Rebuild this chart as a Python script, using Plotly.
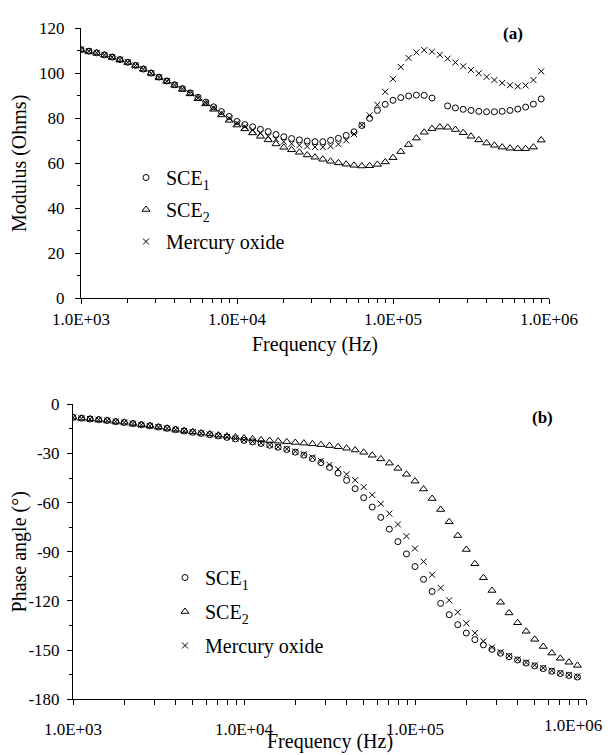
import plotly.graph_objects as go

# Frequencies (Hz) (20 points per decade)
freq = [1000, 1122, 1259, 1413, 1585, 1778, 1995, 2239, 2512, 2818,
        3162, 3548, 3981, 4467, 5012, 5623, 6310, 7079, 7943, 8913,
        10000, 11220, 12589, 14125, 15849, 17783, 19953, 22387, 25119, 28184,
        31623, 35481, 39811, 44668, 50119, 56234, 63096, 70795, 79433, 89125,
        100000, 112202, 125893, 141254, 158489, 177828, 199526, 223872, 251189, 281838,
        316228, 354813, 398107, 446684, 501187, 562341, 630957, 707946, 794328, 891251]

# (a) Modulus (Ohms)
modulus_sce1 = [110.5, 109.8, 109.1, 108.2, 107.2, 106.1, 104.9, 103.5, 101.9, 100.1,
                98.3, 96.6, 94.9, 93.2, 91.3, 89.3, 87.2, 85.1, 83.0, 80.8,
                78.6, 77.2, 76.2, 75.1, 74.1, 72.8, 71.8, 71.0, 70.4, 69.9,
                69.6, 69.6, 70.2, 71.1, 72.4, 74.0, 76.8, 80.0, 83.5, 86.2,
                88.0, 89.2, 89.9, 90.3, 90.2, 89.0, None, 85.5, 84.6, 84.0,
                83.5, 83.1, 82.9, 82.9, 83.1, 83.5, 84.1, 85.0, 86.3, 88.6]
modulus_sce2 = [110.4, 109.7, 109.0, 108.1, 107.1, 106.0, 104.8, 103.4, 101.8, 100.0,
                98.1, 96.4, 94.7, 92.9, 90.9, 88.7, 86.4, 84.0, 81.5, 79.1,
                77.0, 75.3, 73.5, 72.0, 70.4, 68.6, 67.1, 66.0, 64.9, 63.7,
                62.7, 61.8, 60.9, 60.2, 59.6, 59.1, 58.8, 58.9, 59.5, 60.6,
                62.5, 65.2, 68.3, 71.2, 73.8, 75.4, 76.1, 76.0, 75.0, 73.6,
                72.0, 70.4, 69.0, 68.0, 67.2, 66.7, 66.5, 66.5, 67.2, 70.3]
modulus_hg = [110.6, 109.9, 109.1, 108.2, 107.2, 106.1, 104.9, 103.5, 101.9, 100.0,
              98.2, 96.5, 94.8, 93.0, 91.1, 89.1, 86.9, 84.6, 82.3, 80.0,
              77.8, 76.3, 74.8, 73.4, 72.0, 70.7, 69.6, 68.7, 68.0, 67.5,
              67.2, 67.2, 67.6, 68.5, 70.2, 73.0, 77.0, 81.3, 86.0, 91.8,
              97.5, 102.8, 106.8, 109.3, 110.3, 109.6, 108.2, 106.5, 104.8, 103.1,
              101.5, 100.0, 98.4, 97.0, 95.7, 94.7, 94.2, 94.6, 97.0, 100.9]

# (b) Phase angle (degrees)
phase_sce1 = [-8.0, -8.5, -9.0, -9.4, -9.9, -10.6, -11.1, -11.8, -12.5, -13.1,
              -13.9, -14.7, -15.5, -16.3, -17.1, -17.8, -18.5, -19.3, -20.2, -21.1,
              -22.0, -22.9, -23.9, -25.0, -26.2, -27.6, -29.2, -31.0, -33.1, -35.6,
              -38.5, -42.0, -46.4, -51.5, -57.0, -62.7, -69.0, -76.2, -83.8, -91.3,
              -99.0, -106.8, -114.2, -121.5, -128.4, -134.5, -139.6, -143.6, -146.8, -149.5,
              -151.9, -154.0, -156.0, -157.9, -159.6, -161.3, -162.9, -164.3, -165.5, -166.4]
phase_sce2 = [-7.9, -8.5, -8.9, -9.3, -9.8, -10.5, -11.0, -11.7, -12.4, -13.0,
              -13.8, -14.6, -15.3, -16.0, -16.8, -17.5, -18.1, -18.8, -19.4, -20.0,
              -20.6, -21.2, -21.7, -22.1, -22.5, -22.9, -23.3, -23.7, -24.1, -24.6,
              -25.2, -25.9, -26.8, -27.9, -29.3, -31.1, -33.3, -35.9, -39.1, -42.7,
              -46.9, -51.7, -57.5, -64.2, -71.7, -80.1, -88.6, -97.3, -105.8, -113.6,
              -120.8, -127.3, -133.3, -138.5, -143.4, -147.8, -151.8, -155.0, -157.4, -159.3]
phase_hg = [-8.0, -8.6, -9.0, -9.4, -9.9, -10.5, -11.1, -11.8, -12.5, -13.1,
            -13.9, -14.7, -15.5, -16.2, -17.0, -17.7, -18.4, -19.2, -20.0, -20.9,
            -21.8, -22.7, -23.7, -24.8, -26.0, -27.3, -28.8, -30.5, -32.4, -34.5,
            -36.9, -39.6, -42.7, -46.3, -50.5, -55.3, -60.7, -66.7, -73.3, -80.5,
            -88.0, -96.0, -104.0, -112.0, -119.6, -126.9, -133.6, -139.6, -144.6, -148.3,
            -151.2, -153.5, -155.6, -157.5, -159.2, -160.9, -162.5, -163.9, -165.1, -166.0]

series_names = ["SCE<sub>1</sub>", "SCE<sub>2</sub>", "Mercury oxide"]
x_tick_vals = [1e3, 1e4, 1e5, 1e6]
x_tick_text = ["1.0E+03", "1.0E+04", "1.0E+05", "1.0E+06"]
x_minor_vals = [m * d for d in (1e3, 1e4, 1e5) for m in range(2, 10)]
phase_ticks = [0, -30, -60, -90, -120, -150, -180]
phase_tick_text = ["0", "-30", "-60", "-90", "-120", "-150", "-180"]
x_title = "Frequency (Hz)"

# The page body keeps its default 8 px margin, so the figure is sized to fit the
# 613x755 window and all window positions below are converted by subtracting it.
OFF = 8
W, H = 613 - OFF, 755 - OFF


def px(xw):
    return (xw - OFF) / W


def py(yw):
    return 1 - (yw - OFF) / H


FONT = "Liberation Serif, Times New Roman, serif"
symbols = [("circle-open", 6), ("triangle-up-open", 7), ("x-thin-open", 6)]

fig = go.Figure()
for i, (name, ys, (sym, sz)) in enumerate(zip(series_names, [modulus_sce1, modulus_sce2, modulus_hg], symbols)):
    fig.add_trace(go.Scatter(x=freq, y=ys, mode="markers", name=name,
                             xaxis="x", yaxis="y", legend="legend", legendgroup=f"a{i}",
                             marker=dict(symbol=sym, size=sz, color="black",
                                         line=dict(color="black", width=1))))
for i, (name, ys, (sym, sz)) in enumerate(zip(series_names, [phase_sce1, phase_sce2, phase_hg], symbols)):
    fig.add_trace(go.Scatter(x=freq, y=ys, mode="markers", name=name,
                             xaxis="x2", yaxis="y2", legend="legend2", legendgroup=f"b{i}",
                             marker=dict(symbol=sym, size=sz, color="black",
                                         line=dict(color="black", width=1))))

axis_common = dict(showline=True, linecolor="black", linewidth=1, showgrid=False,
                   zeroline=False, ticks="outside", tickcolor="black", ticklen=5,
                   tickfont=dict(family=FONT, size=17, color="black"), automargin=False)
title_font = dict(family=FONT, size=20, color="black")

fig.update_layout(
    width=W, height=H,
    margin=dict(l=0, r=0, t=0, b=0),
    paper_bgcolor="white", plot_bgcolor="white",
    font=dict(family=FONT, color="black", size=17),
    xaxis=dict(type="log", range=[3, 6], domain=[px(81), px(549)], anchor="y",
               tickmode="array", tickvals=x_tick_vals, ticktext=x_tick_text,
               minor=dict(tickmode="array", tickvals=x_minor_vals, ticks="outside",
                          ticklen=4, tickcolor="black", showgrid=False),
               title=dict(text=x_title, font=title_font, standoff=9),
               **axis_common),
    yaxis=dict(range=[0, 120], domain=[py(298.3), py(28.3)], anchor="x",
               tick0=0, dtick=20, ticklabelstandoff=7,
               minor=dict(dtick=10, ticks="outside", ticklen=3, tickcolor="black", showgrid=False),
               title=dict(text="Modulus (Ohms)", font=title_font, standoff=8),
               **axis_common),
    # bottom panel: the 1.0E+06 label is drawn as an annotation nudged inward (as in the reference)
    xaxis2=dict(type="log", range=[3, 6], domain=[px(73), px(586)], anchor="y2",
                tickmode="array", tickvals=x_tick_vals[:3], ticktext=x_tick_text[:3],
                ticklabelstandoff=9,
                minor=dict(tickmode="array", tickvals=x_minor_vals + [x_tick_vals[3]],
                           ticks="outside", ticklen=5, tickcolor="black", showgrid=False),
                **axis_common),
    yaxis2=dict(range=[-180, 0], domain=[py(699.3), py(404.3)], anchor="x2",
                tickmode="array", tickvals=phase_ticks, ticktext=phase_tick_text,
                ticklabelstandoff=4,
                minor=dict(dtick=15, ticks="outside", ticklen=3, tickcolor="black", showgrid=False),
                title=dict(text="Phase angle (°)", font=title_font, standoff=1),
                **axis_common),
    legend=dict(x=px(126), y=py(158), xanchor="left", yanchor="top", tracegroupgap=3,
                bgcolor="rgba(0,0,0,0)", font=dict(family=FONT, size=20, color="black")),
    legend2=dict(x=px(165), y=py(558), xanchor="left", yanchor="top", tracegroupgap=5,
                 bgcolor="rgba(0,0,0,0)", font=dict(family=FONT, size=20, color="black")),
    annotations=[
        dict(text="<b>(a)</b>", x=px(525), y=py(22), xref="paper", yref="paper",
             showarrow=False, font=dict(family=FONT, size=17, color="black")),
        dict(text="<b>(b)</b>", x=px(555), y=py(417), xref="paper", yref="paper",
             showarrow=False, font=dict(family=FONT, size=17, color="black")),
        dict(text=x_tick_text[3], x=6, xref="x2", y=py(725), yref="paper",
             xanchor="center", yanchor="middle", xshift=-13, showarrow=False,
             font=dict(family=FONT, size=17, color="black")),
        dict(text=x_title, x=px((73 + 586) / 2), y=py(741), xref="paper", yref="paper",
             xanchor="center", yanchor="middle", showarrow=False, font=title_font),
    ],
)

fig.write_html("out.html")
